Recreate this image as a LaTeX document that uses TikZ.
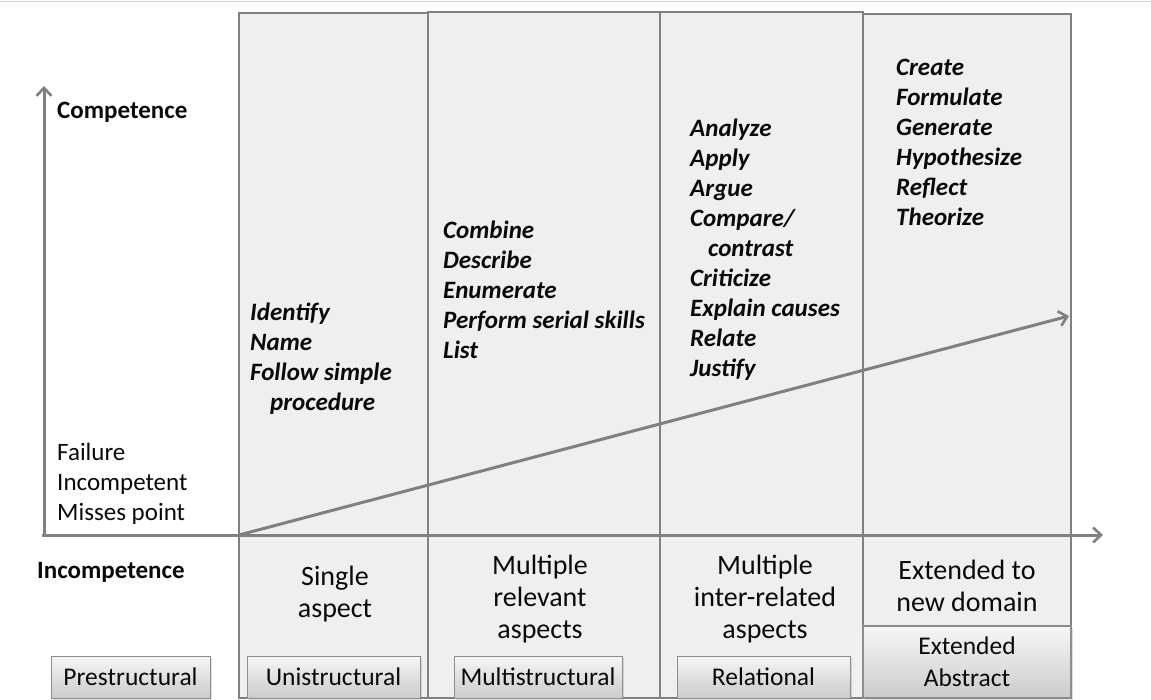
\documentclass[tikz,border=0pt]{standalone}
\usepackage{fontspec}
\setmainfont{Carlito}
\usetikzlibrary{arrows.meta,shadows}
\definecolor{colfill}{HTML}{EFEFEF}
\definecolor{linegray}{HTML}{808080}
\definecolor{boxtop}{HTML}{F6F6F6}
\definecolor{boxbot}{HTML}{CBCBCB}
\definecolor{ink}{HTML}{0A0A0A}
\begin{document}
\begin{tikzpicture}[x=1pt,y=-1pt,
  col/.style={draw=linegray, line width=1.8pt, fill=colfill},
  axis/.style={draw=linegray, line width=3pt, -{Straight Barb[length=8pt,width=15pt,line width=2.6pt]}},
  verb/.style={anchor=north west, align=left, inner sep=0pt, text=ink,
    font=\fontsize{25}{30}\selectfont\bfseries\itshape},
  plain/.style={anchor=north west, align=left, inner sep=0pt, text=ink,
    font=\fontsize{25}{30}\selectfont},
  axlabel/.style={anchor=base west, inner sep=0pt, text=ink,
    font=\fontsize{25}{30}\selectfont\bfseries},
  desc/.style={anchor=north, align=center, inner sep=0pt, text=ink,
    font=\fontsize{28}{32}\selectfont},
  levelbox/.style={draw=linegray!90, line width=1pt, top color=boxtop, bottom color=boxbot,
    text=ink, align=center, inner sep=0pt, font=\fontsize{25.5}{32}\selectfont,
    drop shadow={shadow xshift=1.5pt, shadow yshift=-2pt, opacity=0.25}}
]
\useasboundingbox (0,0) rectangle (1151,700);
\fill[white] (0,0) rectangle (1151,700);
\draw[gray!35, line width=1pt] (0,1.5) -- (1151,1.5);

% columns
\draw[col] (239,13) rectangle (428,698);
\draw[col] (428,12) rectangle (660,698);
\draw[col] (660,12) rectangle (863,698);
\draw[col] (863,14) rectangle (1071,698);

% verbs
\node[verb] (v1) at (250,299) {\strut Identify\\Name\\Follow simple\\\hspace*{20pt}procedure};
\node[verb] (v2) at (443,217) {\strut Combine\\Describe\\Enumerate\\Perform serial skills\\List};
\node[verb] (v3) at (690,115) {\strut Analyze\\Apply\\Argue\\Compare/\\\hspace*{18pt}contrast\\Criticize\\Explain causes\\Relate\\Justify};
\node[verb] (v4) at (896,54) {\strut Create\\Formulate\\Generate\\Hypothesize\\Reflect\\Theorize};

% left labels
\node[axlabel] (comp) at (57,119) {Competence};
\node[axlabel] (incomp) at (37,578) {Incompetence};
\node[plain] (fail) at (57,439) {\strut Failure\\Incompetent\\Misses point};

% descriptions
\node[desc] (d1) at (335,563) {\strut Single\\aspect};
\node[desc] (d2) at (540,552) {\strut Multiple\\relevant\\aspects};
\node[desc] (d3) at (765,552) {\strut Multiple\\inter-related\\aspects};
\node[desc] (d4) at (967,557) {\strut Extended to\\new domain};

% axes
\coordinate (O) at (44,537);
\coordinate (ytip) at (44,86);
\coordinate (xstart) at (42,535);
\coordinate (xtip) at (1103,535);
\coordinate (dstart) at (239,535);
\coordinate (dtip) at (1069,316);
\draw[axis] (O) -- (ytip);
\draw[axis] (xstart) -- (xtip);
\draw[axis] (dstart) -- (dtip);

% level boxes
\node[levelbox, minimum width=159pt, minimum height=42pt] (pre) at (130.5,677) {Prestructural};
\node[levelbox, minimum width=173pt, minimum height=42pt] (uni) at (333.5,677) {Unistructural};
\node[levelbox, minimum width=168pt, minimum height=42pt] (multi) at (538,677) {Multistructural};
\node[levelbox, minimum width=173pt, minimum height=42pt] (rel) at (763.5,677) {Relational};
\node[levelbox, drop shadow={opacity=0}, line width=1.8pt, minimum width=208pt, minimum height=72pt] (ext) at (967,662) {Extended\\Abstract};
\end{tikzpicture}
\end{document}
